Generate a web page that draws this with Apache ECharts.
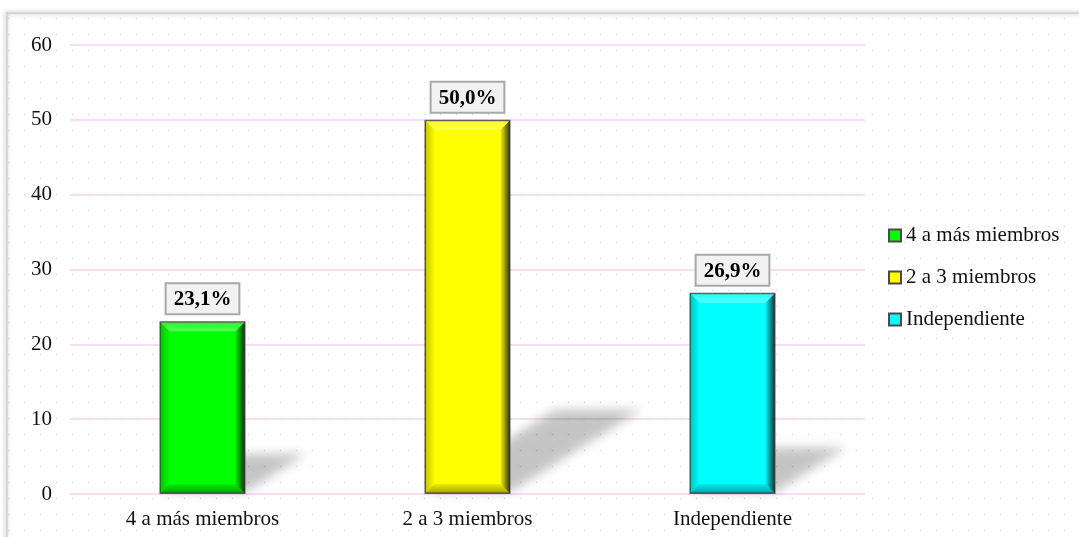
<!DOCTYPE html>
<html>
<head>
<meta charset="utf-8">
<script src="https://cdn.jsdelivr.net/npm/echarts@6/dist/echarts.min.js"></script>
<style>html,body{margin:0;padding:0;background:#fff;}#chart{width:1079px;height:537px;}</style>
</head>
<body>
<div id="chart"></div>
<script>
// ---- data ----
var categories = ['4 a más miembros', '2 a 3 miembros', 'Independiente'];
var porcentajes = [23.1, 50.0, 26.9];
var yTicks = [0, 10, 20, 30, 40, 50, 60];

// ---- style constants ----
var FONT = '"Liberation Serif", "Times New Roman", serif';
var BAR_W = 86;
var barColors = ['#00ff00', '#ffff00', '#00ffff'];
var legendBorder = '#4a4a4a';

// dotted background pattern
var pc = document.createElement('canvas');
pc.width = 16; pc.height = 16;
var pctx = pc.getContext('2d');
pctx.fillStyle = '#f2c4ef';
pctx.fillRect(8, 2, 1, 1);

var chart = echarts.init(document.getElementById('chart'), null, {renderer: 'canvas'});

function fmt(v) { return v.toFixed(1).replace('.', ',') + '%'; }

var barSeries = categories.map(function (name, i) {
  var d = categories.map(function (c, j) { return j === i ? porcentajes[j] : '-'; });
  return {
    name: name,
    type: 'bar',
    stack: 'total',
    barWidth: BAR_W,
    z: 3,
    data: d,
    itemStyle: {
      color: barColors[i],
      borderColor: '#5a5a5a',
      borderWidth: 1.5
    },
    label: {
      show: true,
      position: 'top',
      distance: 8,
      formatter: function (p) { return fmt(p.value); },
      fontFamily: FONT,
      fontWeight: 'bold',
      fontSize: 21,
      color: '#000',
      backgroundColor: '#f2f2f2',
      borderColor: '#a8a8a8',
      borderWidth: 2,
      padding: [5, 7, 3, 7]
    }
  };
});

var pairData = categories.map(function (c, i) { return [i, porcentajes[i]]; });

// perspective shadow behind bars
var shadowSeries = {
  type: 'custom',
  name: '_shadow',
  z: 1,
  silent: true,
  data: pairData,
  encode: {x: 0, y: 1},
  renderItem: function (params, api) {
    var p0 = api.coord([api.value(0), 0]);
    var p1 = api.coord([api.value(0), api.value(1)]);
    var h = p0[1] - p1[1];
    var dx = 0.35 * h, dy = 0.22 * h;
    var x0 = p0[0] - BAR_W / 2, x1 = p0[0] + BAR_W / 2, yb = p0[1] - 2;
    var OFF = 3000;
    return {
      type: 'polygon',
      shape: {points: [[x0 - OFF, yb], [x1 - OFF, yb], [x1 + dx - OFF, yb - dy], [x0 + dx - OFF, yb - dy]]},
      style: {
        fill: 'rgba(0,0,0,1)',
        shadowBlur: 11,
        shadowColor: 'rgba(0,0,0,0.23)',
        shadowOffsetX: OFF,
        shadowOffsetY: 0
      }
    };
  }
};

// bevel overlay on bars
var bevelSeries = {
  type: 'custom',
  name: '_bevel',
  z: 4,
  silent: true,
  data: pairData,
  encode: {x: 0, y: 1},
  renderItem: function (params, api) {
    var p0 = api.coord([api.value(0), 0]);
    var p1 = api.coord([api.value(0), api.value(1)]);
    var x0 = p0[0] - BAR_W / 2 + 1, x1 = p0[0] + BAR_W / 2 - 1;
    var yt = p1[1] + 1, yb = p0[1] - 1;
    var b = 9;
    return {
      type: 'group',
      children: [
        {type: 'polygon', shape: {points: [[x0, yt], [x1, yt], [x1 - b, yt + b], [x0 + b, yt + b]]},
          style: {fill: {type: 'linear', x: 0, y: 0, x2: 0, y2: 1, colorStops: [{offset: 0, color: 'rgba(255,255,255,0.1)'}, {offset: 1, color: 'rgba(255,255,255,0.35)'}]}}},
        {type: 'polygon', shape: {points: [[x0, yb], [x1, yb], [x1 - b, yb - b], [x0 + b, yb - b]]},
          style: {fill: {type: 'linear', x: 0, y: 0, x2: 0, y2: 1, colorStops: [{offset: 0, color: 'rgba(0,0,0,0.08)'}, {offset: 1, color: 'rgba(0,0,0,0.35)'}]}}},
        {type: 'polygon', shape: {points: [[x0, yt], [x0 + b, yt + b], [x0 + b, yb - b], [x0, yb]]},
          style: {fill: {type: 'linear', x: 0, y: 0, x2: 1, y2: 0, colorStops: [{offset: 0, color: 'rgba(0,0,0,0.22)'}, {offset: 1, color: 'rgba(0,0,0,0.02)'}]}}},
        {type: 'polygon', shape: {points: [[x1, yt], [x1 - b, yt + b], [x1 - b, yb - b], [x1, yb]]},
          style: {fill: {type: 'linear', x: 0, y: 0, x2: 1, y2: 0, colorStops: [{offset: 0, color: 'rgba(0,0,0,0.05)'}, {offset: 1, color: 'rgba(0,0,0,0.75)'}]}}}
      ]
    };
  }
};

var option = {
  backgroundColor: '#ffffff',
  animation: false,
  graphic: [{
    type: 'rect',
    z: -10,
    silent: true,
    shape: {x: 7, y: 13, width: 1100, height: 560},
    style: {
      fill: {image: pc, repeat: 'repeat'},
      stroke: '#d6d6d6',
      lineWidth: 2,
      shadowBlur: 4,
      shadowColor: 'rgba(0,0,0,0.25)',
      shadowOffsetX: -1,
      shadowOffsetY: 0
    }
  }],
  grid: {left: 70, right: 214, top: 45, bottom: 43, containLabel: false},
  legend: {
    orient: 'vertical',
    left: 888,
    top: 225,
    padding: 0,
    itemWidth: 12,
    itemHeight: 12,
    itemGap: 21,
    icon: 'rect',
    data: categories,
    itemStyle: {borderColor: legendBorder, borderWidth: 2},
    textStyle: {fontFamily: FONT, fontSize: 21, color: '#111', lineHeight: 21}
  },
  xAxis: {
    type: 'category',
    data: categories,
    axisLine: {show: false},
    axisTick: {show: false},
    axisLabel: {fontFamily: FONT, fontSize: 21, color: '#111', margin: 15},
    splitLine: {show: false}
  },
  yAxis: {
    type: 'value',
    min: yTicks[0],
    max: yTicks[yTicks.length - 1],
    interval: 10,
    axisLine: {show: false},
    axisTick: {show: false},
    axisLabel: {fontFamily: FONT, fontSize: 21, color: '#111', margin: 18},
    splitLine: {show: true, lineStyle: {color: '#f6d2f3', width: 1.5}}
  },
  series: [shadowSeries].concat(barSeries).concat([bevelSeries])
};
chart.setOption(option);
</script>
</body>
</html>
